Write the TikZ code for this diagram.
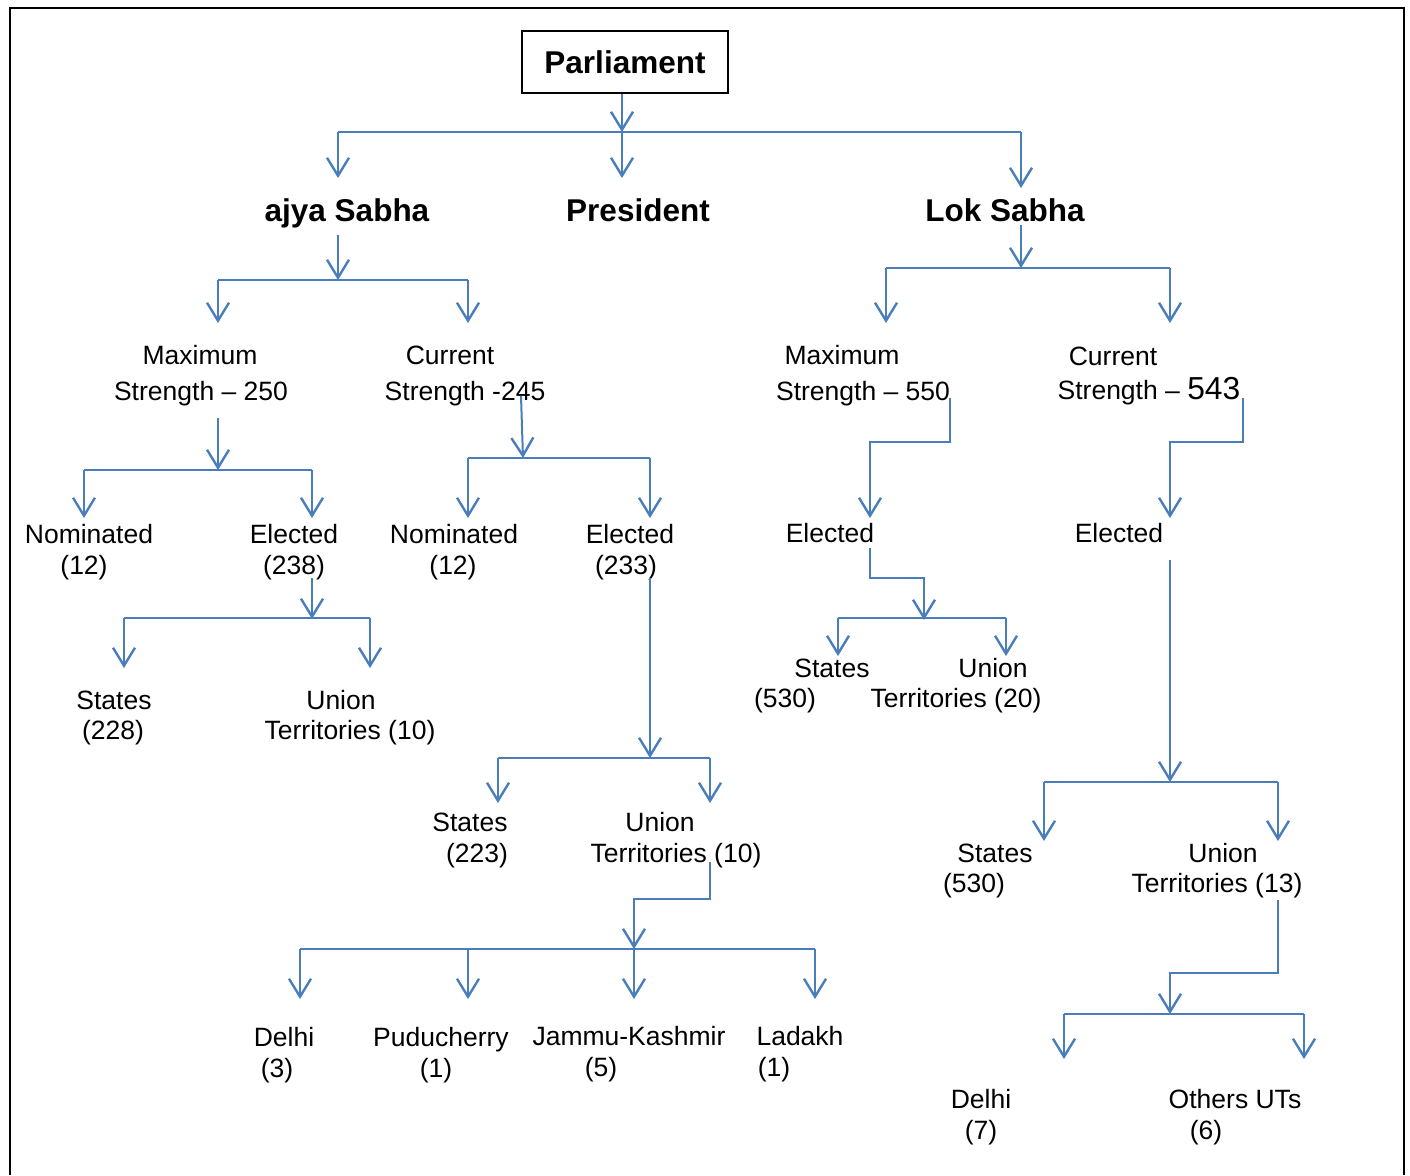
\documentclass[tikz,border=0pt]{standalone}
\usepackage{fontspec}
\setmainfont{Liberation Sans}
\usetikzlibrary{arrows.meta}
\definecolor{linkblue}{RGB}{74,126,187}
\begin{document}
\begin{tikzpicture}[x=0.5pt,y=-0.5pt,
  lbl/.style={anchor=base,inner sep=0pt,font=\fontsize{13.25}{16}\selectfont},
  ttl/.style={anchor=base,inner sep=0pt,font=\fontsize{15.75}{19}\selectfont\bfseries},
  link/.style={draw=linkblue,line width=1pt},
  arr/.style={link,-{Straight Barb[length=9pt,width=11pt,line width=1.2pt]}},
]
\useasboundingbox (0,0) rectangle (1410,1175);
% outer frame (open at the bottom)
\draw[line width=1pt] (10,1175) -- (10,8) -- (1404,8) -- (1404,1175);

% ---------- labels ----------
\node[draw=black,line width=0.7pt,minimum width=103pt,minimum height=31pt,inner sep=0pt,
      font=\fontsize{15.75}{19}\selectfont\bfseries] (parl) at (625,62) {Parliament};

\node[ttl] (rs)   at (347,221) {ajya Sabha};
\node[ttl] (pres) at (638,221) {President};
\node[ttl] (ls)   at (1005,221) {Lok Sabha};

\node[lbl] (rsMax)  at (200,364) {Maximum};
\node[lbl] (rsMax2) at (201,400) {Strength -- 250};
\node[lbl] (rsCur)  at (450,364) {Current};
\node[lbl] (rsCur2) at (465,400) {Strength -245};
\node[lbl] (lsMax)  at (842,364) {Maximum};
\node[lbl] (lsMax2) at (863,400) {Strength -- 550};
\node[lbl] (lsCur)  at (1113,365) {Current};
\node[lbl] (lsCur2) at (1149,399) {Strength -- {\fontsize{15.9}{19}\selectfont 543}};

\node[lbl] (rsMaxNom)  at (89,543)  {Nominated};
\node[lbl] (rsMaxNom2) at (84,574)  {(12)};
\node[lbl] (rsMaxEl)   at (294,543) {Elected};
\node[lbl] (rsMaxEl2)  at (294,574) {(238)};
\node[lbl] (rsCurNom)  at (454,543) {Nominated};
\node[lbl] (rsCurNom2) at (453,574) {(12)};
\node[lbl] (rsCurEl)   at (630,543) {Elected};
\node[lbl] (rsCurEl2)  at (626,574) {(233)};
\node[lbl] (lsMaxEl)   at (830,542) {Elected};
\node[lbl] (lsCurEl)   at (1119,542) {Elected};

\node[lbl] (rsSt)   at (114,709) {States};
\node[lbl] (rsSt2)  at (113,739) {(228)};
\node[lbl] (rsUt)   at (341,709) {Union};
\node[lbl] (rsUt2)  at (350,739) {Territories (10)};
\node[lbl] (lsMSt)  at (832,677) {States};
\node[lbl] (lsMSt2) at (785,707) {(530)};
\node[lbl] (lsMUt)  at (993,677) {Union};
\node[lbl] (lsMUt2) at (956,707) {Territories (20)};
\node[lbl] (cSt)    at (470,831) {States};
\node[lbl] (cSt2)   at (477,862) {(223)};
\node[lbl] (cUt)    at (660,831) {Union};
\node[lbl] (cUt2)   at (676,862) {Territories (10)};
\node[lbl] (lsCSt)  at (995,862) {States};
\node[lbl] (lsCSt2) at (974,892) {(530)};
\node[lbl] (lsCUt)  at (1223,862) {Union};
\node[lbl] (lsCUt2) at (1217,892) {Territories (13)};

\node[lbl] (del)  at (284,1046) {Delhi};
\node[lbl] (del2) at (277,1077) {(3)};
\node[lbl] (pud)  at (441,1046) {Puducherry};
\node[lbl] (pud2) at (436,1077) {(1)};
\node[lbl] (jk)   at (629,1045) {Jammu-Kashmir};
\node[lbl] (jk2)  at (601,1076) {(5)};
\node[lbl] (lad)  at (800,1045) {Ladakh};
\node[lbl] (lad2) at (774,1076) {(1)};
\node[lbl] (lsDel)  at (981,1108) {Delhi};
\node[lbl] (lsDel2) at (981,1139) {(7)};
\node[lbl] (oth)    at (1235,1108) {Others UTs};
\node[lbl] (oth2)   at (1206,1139) {(6)};

% ---------- connector points ----------
\coordinate (pBus)  at (622,132);
\coordinate (pBusL) at (338,132);
\coordinate (pBusR) at (1021,132);
\coordinate (pTipL) at (338,178);
\coordinate (pTipM) at (622,178);
\coordinate (pTipR) at (1021,188);

\coordinate (rsTop)  at (338,235);
\coordinate (rsBus)  at (338,280);
\coordinate (rsBusL) at (218,280);
\coordinate (rsBusR) at (468,280);
\coordinate (rsTipL) at (218,323);
\coordinate (rsTipR) at (468,323);

\coordinate (lsTop)  at (1021,225);
\coordinate (lsBus)  at (1021,268);
\coordinate (lsBusL) at (886,268);
\coordinate (lsBusR) at (1170,268);
\coordinate (lsTipL) at (886,323);
\coordinate (lsTipR) at (1170,323);

\coordinate (aTop)  at (218,418);
\coordinate (aBus)  at (218,470);
\coordinate (aBusL) at (84,470);
\coordinate (aBusR) at (312,470);
\coordinate (aTipL) at (84,518);
\coordinate (aTipR) at (312,518);

\coordinate (bTop)  at (521,396);
\coordinate (bBus)  at (523,458);
\coordinate (bBusL) at (468,458);
\coordinate (bBusR) at (650,458);
\coordinate (bTipL) at (468,518);
\coordinate (bTipR) at (650,518);

\coordinate (cTop)  at (312,578);
\coordinate (cBus)  at (312,619);
\coordinate (cBusL) at (124,618);
\coordinate (cBusR) at (370,618);
\coordinate (cTipL) at (124,668);
\coordinate (cTipR) at (370,668);

\coordinate (dTop)  at (650,578);
\coordinate (dBus)  at (650,758);
\coordinate (dBusL) at (498,758);
\coordinate (dBusR) at (710,758);
\coordinate (dTipL) at (498,803);
\coordinate (dTipR) at (710,803);

\coordinate (eTop)  at (710,862);
\coordinate (eKnee) at (710,899);
\coordinate (eJog)  at (634,899);
\coordinate (eBus)  at (634,949);
\coordinate (eBusL) at (300,949);
\coordinate (eB2)   at (468,949);
\coordinate (eBusR) at (815,949);
\coordinate (eTip1) at (300,999);
\coordinate (eTip2) at (468,999);
\coordinate (eTip3) at (634,999);
\coordinate (eTip4) at (815,999);

\coordinate (fTop)  at (950,398);
\coordinate (fKnee) at (950,442);
\coordinate (fJog)  at (870,442);
\coordinate (fTip)  at (870,518);

\coordinate (gTop)  at (870,548);
\coordinate (gKnee) at (870,578);
\coordinate (gJog)  at (924,578);
\coordinate (gBus)  at (924,620);
\coordinate (gBusL) at (838,618);
\coordinate (gBusR) at (1006,618);
\coordinate (gTipL) at (838,656);
\coordinate (gTipR) at (1006,656);

\coordinate (hTop)  at (1243,398);
\coordinate (hKnee) at (1243,442);
\coordinate (hJog)  at (1170,442);
\coordinate (hTip)  at (1170,518);

\coordinate (iTop)  at (1170,560);
\coordinate (iBus)  at (1170,782);
\coordinate (iBusL) at (1044,782);
\coordinate (iBusR) at (1278,782);
\coordinate (iTipL) at (1044,841);
\coordinate (iTipR) at (1278,841);

\coordinate (kTop)  at (1278,900);
\coordinate (kKnee) at (1278,973);
\coordinate (kJog)  at (1170,973);
\coordinate (kBus)  at (1170,1014);
\coordinate (kBusL) at (1064,1014);
\coordinate (kBusR) at (1304,1014);
\coordinate (kTipL) at (1064,1059);
\coordinate (kTipR) at (1304,1059);

% ---------- connectors ----------
% Parliament
\draw[arr] (parl.south -| pBus) -- (pBus);
\draw[link] (pBusL) -- (pBusR);
\draw[arr] (pBusL) -- (pTipL);
\draw[arr] (pBus) -- (pTipM);
\draw[arr] (pBusR) -- (pTipR);

% Rajya Sabha
\draw[arr] (rsTop) -- (rsBus);
\draw[link] (rsBusL) -- (rsBusR);
\draw[arr] (rsBusL) -- (rsTipL);
\draw[arr] (rsBusR) -- (rsTipR);

% Lok Sabha
\draw[arr] (lsTop) -- (lsBus);
\draw[link] (lsBusL) -- (lsBusR);
\draw[arr] (lsBusL) -- (lsTipL);
\draw[arr] (lsBusR) -- (lsTipR);

% Rajya Sabha, maximum strength
\draw[arr] (aTop) -- (aBus);
\draw[link] (aBusL) -- (aBusR);
\draw[arr] (aBusL) -- (aTipL);
\draw[arr] (aBusR) -- (aTipR);

% Rajya Sabha, current strength
\draw[arr] (bTop) -- (bBus);
\draw[link] (bBusL) -- (bBusR);
\draw[arr] (bBusL) -- (bTipL);
\draw[arr] (bBusR) -- (bTipR);

% elected (238)
\draw[arr] (cTop) -- (cBus);
\draw[link] (cBusL) -- (cBusR);
\draw[arr] (cBusL) -- (cTipL);
\draw[arr] (cBusR) -- (cTipR);

% elected (233)
\draw[arr] (dTop) -- (dBus);
\draw[link] (dBusL) -- (dBusR);
\draw[arr] (dBusL) -- (dTipL);
\draw[arr] (dBusR) -- (dTipR);

% union territories (10)
\draw[arr] (eTop) -- (eKnee) -- (eJog) -- (eBus);
\draw[link] (eBusL) -- (eBusR);
\draw[arr] (eBusL) -- (eTip1);
\draw[arr] (eB2) -- (eTip2);
\draw[arr] (eBus) -- (eTip3);
\draw[arr] (eBusR) -- (eTip4);

% Lok Sabha, maximum strength
\draw[arr] (fTop) -- (fKnee) -- (fJog) -- (fTip);
\draw[arr] (gTop) -- (gKnee) -- (gJog) -- (gBus);
\draw[link] (gBusL) -- (gBusR);
\draw[arr] (gBusL) -- (gTipL);
\draw[arr] (gBusR) -- (gTipR);

% Lok Sabha, current strength
\draw[arr] (hTop) -- (hKnee) -- (hJog) -- (hTip);
\draw[arr] (iTop) -- (iBus);
\draw[link] (iBusL) -- (iBusR);
\draw[arr] (iBusL) -- (iTipL);
\draw[arr] (iBusR) -- (iTipR);

% union territories (13)
\draw[arr] (kTop) -- (kKnee) -- (kJog) -- (kBus);
\draw[link] (kBusL) -- (kBusR);
\draw[arr] (kBusL) -- (kTipL);
\draw[arr] (kBusR) -- (kTipR);
\end{tikzpicture}
\end{document}
